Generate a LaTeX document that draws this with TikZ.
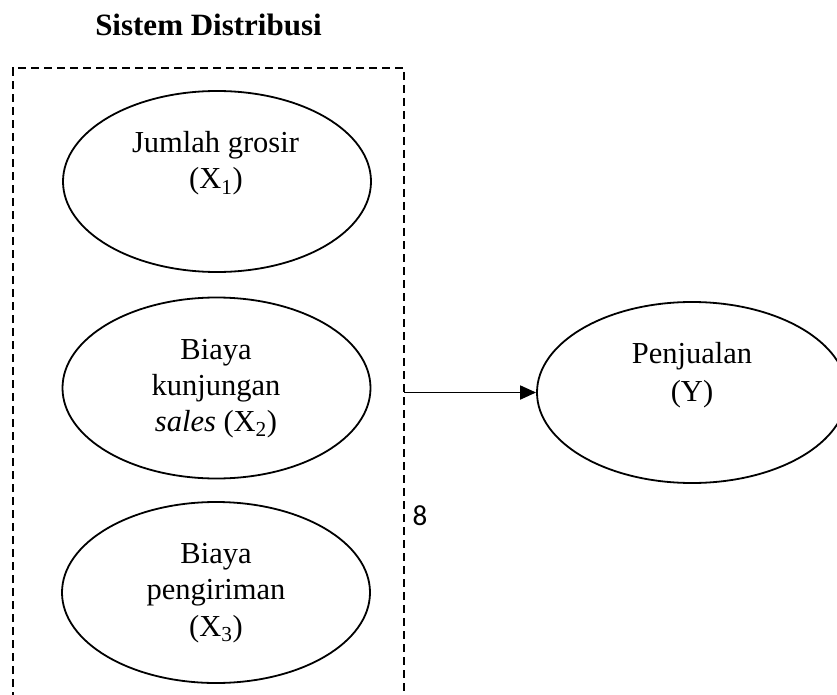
\documentclass[tikz,border=0pt]{standalone}
\usepackage{fontspec}
\setmainfont{Liberation Serif}
\newfontfamily\carlito{Carlito}
\usetikzlibrary{arrows.meta,shapes.geometric}
\tikzset{
  oval/.style={draw, ellipse, line width=1.8pt, minimum width=308pt, minimum height=181pt, inner sep=0pt},
  txt/.style={anchor=base, inner sep=0pt, font=\fontsize{30.5}{36}\selectfont},
  frame/.style={line width=1.8pt, dash pattern=on 8pt off 5pt},
  conn/.style={line width=1.8pt, -{Triangle[length=16pt,width=14pt]}}
}
\begin{document}
\begin{tikzpicture}[x=1pt,y=-1pt]
\useasboundingbox (0,0) rectangle (837,695);
\clip (0,0) rectangle (837,695);
\node[txt, font=\fontsize{31}{36}\selectfont\bfseries] (title) at (208.5,36) {Sistem Distribusi};
% frame
\coordinate (fbl) at (12.7,700);
\coordinate (ftl) at (12.7,68.3);
\coordinate (ftr) at (404.3,68.3);
\coordinate (fbr) at (404.3,700);
\draw[frame] (fbl) -- (ftl) -- (ftr) -- (fbr);
% ellipses
\node[oval] (x1) at (217,181.5) {};
\node[oval] (x2) at (216.5,388) {};
\node[oval] (x3) at (216,592.5) {};
\node[oval, minimum width=310pt] (y) at (692,392.5) {};
% texts
\node[txt] (x1a) at (215.5,153) {Jumlah grosir};
\node[txt] (x1b) at (216,189) {(X\textsubscript{1})};
\node[txt] (x2a) at (216,359) {Biaya};
\node[txt] (x2b) at (216,395) {kunjungan};
\node[txt] (x2c) at (216,431) {\textit{sales} (X\textsubscript{2})};
\node[txt] (x3a) at (216,563) {Biaya};
\node[txt] (x3b) at (216,599) {pengiriman};
\node[txt] (x3c) at (216,636) {(X\textsubscript{3})};
\node[txt] (ya) at (692,363) {Penjualan};
\node[txt] (yb) at (692,401) {(Y)};
\node[anchor=base, inner sep=0pt, font=\carlito\fontsize{29}{34}\selectfont] (pg) at (420,525) {8};
% connector
\coordinate (arr) at (404.3,392.5);
\draw[conn] (arr) -- (y.west);
\end{tikzpicture}
\end{document}
